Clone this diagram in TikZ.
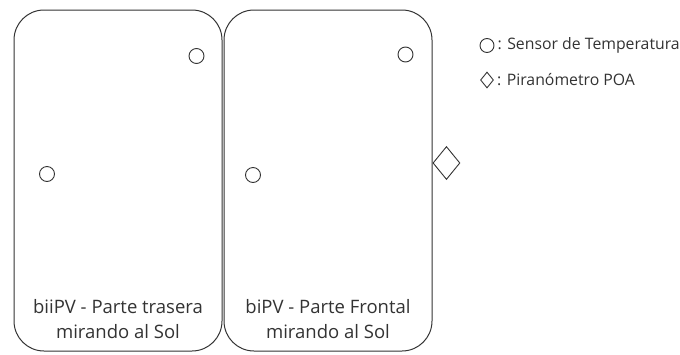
\documentclass[tikz,border=0pt]{standalone}
\usepackage{fontspec}
\setmainfont{Open Sans}
\usetikzlibrary{positioning,shapes.geometric}
\definecolor{ink}{HTML}{333333}

\begin{document}
\begin{tikzpicture}[x=1pt, y=-1pt, text=ink,
  panel/.style={draw=ink, line width=1pt, rounded corners=30pt, inner sep=0pt,
                minimum width=208pt, minimum height=341pt},
  sensor/.style={circle, draw=ink, line width=0.9pt, inner sep=0pt, minimum size=15pt},
  pyra/.style={diamond, draw=ink, line width=0.9pt, inner sep=0pt,
               minimum width=27pt, minimum height=33pt},
  lab/.style={align=center, inner sep=0pt, font=\fontsize{18.5}{25}\selectfont},
  key/.style={inner sep=0pt, anchor=west, font=\fontsize{15.8}{18}\selectfont}]
\useasboundingbox (0,0) rectangle (680,354);
% the two module faces
\node[panel] (back) at (118,180.5) {};
\node[panel] (front) at (328,180.5) {};
\node[lab, anchor=south] (backlab) at ([yshift=13pt]back.south) {biiPV - Parte trasera\\mirando al Sol};
\node[lab, anchor=south] (frontlab) at ([yshift=13pt]front.south) {biPV - Parte Frontal\\mirando al Sol};
% temperature sensors
\node[sensor] (bs1) at (196.5,56) {};
\node[sensor] (bs2) at (47,174) {};
\node[sensor] (fs1) at (405.5,54.5) {};
\node[sensor] (fs2) at (253,175) {};
% POA pyranometer on the edge
\node[pyra, anchor=west] (poa) at ([yshift=17.5pt]front.east) {};
% legend
\node[sensor, minimum size=14pt] (keyc) at (487,45.5) {};
\node[key] (keyctxt) at ([xshift=3pt]keyc.east) {: Sensor de Temperatura};
\node[pyra, minimum width=13pt, minimum height=16pt] (keyd) at (487,80) {};
\node[key] (keydtxt) at ([xshift=3pt]keyd.east) {: Piranómetro POA};
\end{tikzpicture}
\end{document}
